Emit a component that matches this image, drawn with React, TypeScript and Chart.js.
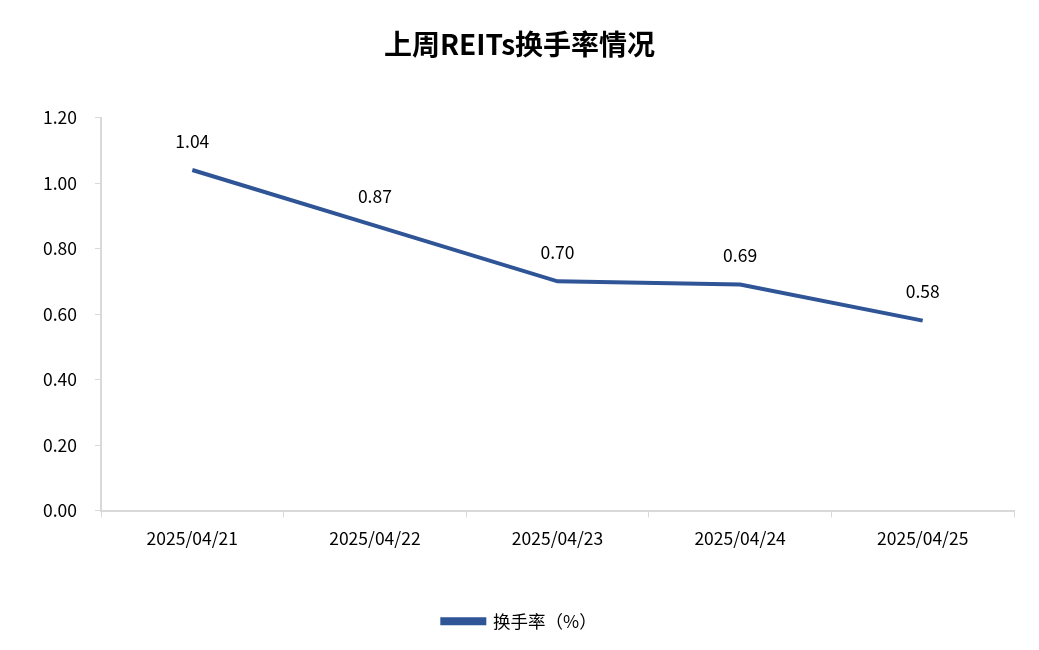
import React, { useEffect, useRef } from "react";
import { Chart, registerables } from "chart.js";

Chart.register(...registerables);

const categories = ["2025/04/21", "2025/04/22", "2025/04/23", "2025/04/24", "2025/04/25"];
const turnover = [1.04, 0.87, 0.7, 0.69, 0.58];
const seriesName = "换手率（%）";
const titleText = "上周REITs换手率情况";
const yTicks = [0, 0.2, 0.4, 0.6, 0.8, 1.0, 1.2];

const FONT = '"Noto Sans CJK SC", "Noto Sans", sans-serif';
const LINE_COLOR = "#2F5597";
const AXIS_COLOR = "#D9D9D9";
const TEXT_SIZE = 17.5;

const labelPlugin = {
  id: "pointLabels",
  afterDatasetsDraw(chart: any) {
    const ctx = chart.ctx;
    const meta = chart.getDatasetMeta(0);
    const data = chart.data.datasets[0].data as number[];
    ctx.save();
    ctx.font = `${TEXT_SIZE}px ${FONT}`;
    ctx.fillStyle = "#000";
    ctx.textAlign = "center";
    ctx.textBaseline = "middle";
    meta.data.forEach((pt: any, i: number) => {
      ctx.fillText(data[i].toFixed(2), pt.x, pt.y - 29);
    });
    ctx.restore();
  },
};

export default function App() {
  const ref = useRef<HTMLCanvasElement>(null);
  useEffect(() => {
    document.body.style.margin = "0";
    const chart = new Chart(ref.current!, {
      type: "line",
      data: {
        labels: categories,
        datasets: [
          {
            label: seriesName,
            data: turnover,
            borderColor: LINE_COLOR,
            backgroundColor: LINE_COLOR,
            borderWidth: 4,
            pointRadius: 0,
            pointHoverRadius: 0,
            tension: 0,
            yAxisID: "y",
          },
        ],
      },
      options: {
        animation: false,
        responsive: false,
        maintainAspectRatio: false,
        layout: { padding: { left: 0, right: 0, top: 0, bottom: 10 } },
        plugins: {
          title: {
            display: true,
            text: titleText,
            color: "#000",
            font: { family: FONT, size: 28, weight: "bold" },
            padding: { top: 28, bottom: 56 },
          },
          legend: {
            display: true,
            position: "bottom",
            labels: {
              color: "#000",
              font: { family: FONT, size: TEXT_SIZE },
              boxWidth: 42,
              boxHeight: 4,
              padding: 30,
            },
          },
          tooltip: { enabled: false },
        },
        scales: {
          x: {
            offset: true,
            afterFit(scale: any) {
              scale.height += 24;
            },
            grid: {
              display: true,
              offset: true,
              drawOnChartArea: false,
              drawTicks: true,
              tickLength: 7,
              color: AXIS_COLOR,
            },
            border: { display: true, color: AXIS_COLOR, width: 2 },
            ticks: {
              color: "#000",
              font: { family: FONT, size: TEXT_SIZE },
              padding: 10,
              maxRotation: 0,
            },
          },
          y: {
            min: 0,
            max: 1.2,
            afterBuildTicks(scale: any) {
              scale.ticks = yTicks.map((v) => ({ value: v }));
            },
            afterFit(scale: any) {
              scale.width = 101;
            },
            grid: {
              display: true,
              drawOnChartArea: false,
              drawTicks: true,
              tickLength: 6,
              color: AXIS_COLOR,
            },
            border: { display: true, color: AXIS_COLOR, width: 2 },
            ticks: {
              color: "#000",
              font: { family: FONT, size: TEXT_SIZE },
              padding: 18,
              callback: (v: any) => Number(v).toFixed(2),
            },
          },
          yRight: {
            position: "right",
            min: 0,
            max: 1.2,
            afterFit(scale: any) {
              scale.width = 25;
            },
            grid: { display: false },
            border: { display: false },
            ticks: { display: false },
          },
        },
      },
      plugins: [labelPlugin],
    });
    return () => chart.destroy();
  }, []);
  return (
    <div style={{ width: 1039, height: 650, background: "#fff" }}>
      <canvas ref={ref} width={1039} height={650} style={{ display: "block" }} />
    </div>
  );
}
